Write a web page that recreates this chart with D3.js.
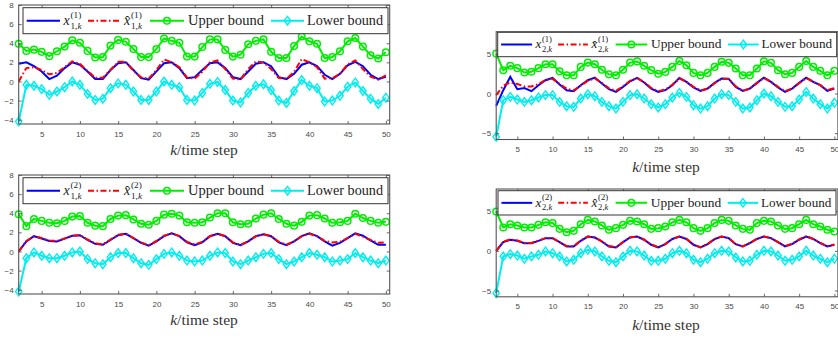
<!DOCTYPE html>
<html>
<head>
<meta charset="utf-8">
<script src="https://cdn.jsdelivr.net/npm/d3@7"></script>
<style>
  body { margin: 0; background: #fff; }
  svg { display: block; }
  .tick text { font-family: "Liberation Sans", Arial, sans-serif; font-size: 8px; fill: #4a4a4a; }
  .tick line { stroke: #444; stroke-width: 0.8; }
</style>
</head>
<body>
<svg id="chart" width="838" height="339"></svg>
<script>
// time steps k = 2..50
const steps = d3.range(2, 51);
const xTicks = [5, 10, 15, 20, 25, 30, 35, 40, 45, 50];
const yTicksLeft = [-4, -2, 0, 2, 4, 6, 8];
const yTicksRight = [-5, 0, 5];

// x^{(1)}_{1,k}
const x11 = [1.86, 2.0, 1.6, 1.05, 0.25, 0.6, 1.4, 2.0, 1.75, 1.05, 0.25, 0.25, 1.2, 1.9, 2.0, 1.2, 0.35, 0.2, 1.05, 1.9, 2.0, 1.4, 0.35, 0.45, 1.2, 1.9, 2.0, 1.4, 0.45, 0.25, 1.05, 1.85, 2.0, 1.6, 0.45, 0.25, 0.8, 1.75, 2.0, 1.6, 0.7, 0.25, 0.8, 1.7, 2.05, 1.6, 0.7, 0.25, 0.5];
const x11Hat = [0, 1.4, 1.5, 1.2, 0.75, 0.9, 1.5, 2.1, 1.85, 1.1, 0.4, 0.4, 1.2, 2.05, 2.05, 1.1, 0.45, 0.3, 1.2, 2.3, 2.0, 1.5, 0.4, 0.3, 1.0, 2.0, 2.2, 1.3, 0.3, 0.2, 1.3, 2.1, 2.0, 1.3, 0.35, 0.3, 1.0, 2.35, 2.0, 1.5, 0.3, 0.35, 0.8, 1.8, 2.2, 1.3, 0.5, 0.2, 0.65];
const x11Upper = [3.95, 3.2, 3.33, 3.1, 2.65, 3.16, 3.65, 4.3, 4.05, 3.2, 2.5, 2.55, 3.75, 4.35, 4.15, 3.4, 2.55, 2.55, 3.4, 4.5, 4.25, 4.05, 2.6, 2.6, 3.6, 4.4, 4.4, 3.3, 2.6, 2.8, 3.9, 4.25, 4.4, 3.1, 2.45, 2.45, 3.7, 4.7, 4.2, 3.95, 2.45, 2.55, 3.15, 4.2, 4.55, 3.65, 2.75, 2.4, 3.05];
const x11Lower = [-4.2, -0.35, -0.45, -0.8, -1.4, -1.05, -0.6, 0, -0.35, -1.3, -1.93, -1.8, -0.7, -0.2, -0.35, -1.05, -1.93, -1.93, -1.05, 0, -0.35, -0.6, -1.93, -2.0, -1.2, -0.25, -0.05, -0.9, -2.0, -2.2, -1.2, -0.45, -0.3, -0.9, -2.0, -2.25, -1.0, 0.15, -0.45, -0.7, -2.1, -2.0, -1.5, -0.55, -0.1, -1.0, -1.8, -2.35, -1.7];

// x^{(1)}_{2,k}
const x21 = [-1.55, 0.42, 2.1, 0.55, 0.7, 0.3, 1.05, 1.68, 1.97, 1.13, 0.42, 0.3, 1.05, 1.68, 2.0, 1.26, 0.55, 0.2, 0.84, 1.55, 1.97, 1.4, 0.63, 0.2, 0.42, 1.05, 1.97, 1.47, 0.76, 0.34, 0.63, 1.34, 1.9, 1.85, 0.84, 0.34, 0.63, 1.34, 2.0, 1.47, 0.76, 0.2, 0.63, 1.34, 2.0, 1.47, 1.05, 0.34, 0.63];
const x21Hat = [-0.2, 1.0, 1.4, 1.2, 0.9, 0.9, 1.2, 1.7, 1.85, 1.2, 0.6, 0.4, 1.0, 1.6, 1.9, 1.35, 0.65, 0.35, 0.9, 1.6, 1.95, 1.45, 0.7, 0.3, 0.5, 1.1, 1.9, 1.5, 0.85, 0.4, 0.6, 1.3, 1.85, 1.85, 0.9, 0.35, 0.6, 1.3, 1.95, 1.5, 0.85, 0.3, 0.6, 1.3, 1.95, 1.5, 1.05, 0.4, 0.7];
const x21Upper = [5.04, 2.94, 3.5, 3.2, 2.65, 2.75, 3.2, 3.7, 3.7, 2.8, 2.3, 2.3, 3.36, 3.9, 3.7, 3.0, 2.42, 2.3, 3.0, 3.9, 4.05, 3.5, 2.95, 2.5, 2.73, 3.36, 4.1, 3.57, 2.6, 2.3, 2.6, 3.36, 4.0, 3.87, 3.15, 2.3, 2.3, 3.15, 4.07, 3.87, 2.94, 2.44, 2.6, 3.36, 4.1, 3.36, 2.86, 2.3, 2.86];
const x21Lower = [-5.46, -0.84, -0.42, -0.76, -1.05, -0.84, -0.5, -0.2, -0.2, -1.05, -1.6, -1.68, -0.63, -0.08, -0.34, -1.05, -1.6, -1.9, -1.05, -0.2, -0.08, -0.63, -1.34, -1.76, -1.34, -0.5, 0.08, -0.42, -1.47, -1.9, -1.6, -0.63, -0.08, -0.2, -1.05, -1.9, -1.76, -0.84, 0, -0.34, -1.05, -1.68, -1.6, -0.76, 0.2, -0.63, -1.34, -1.9, -1.17];

// x^{(2)}_{1,k}
const x12 = [0, 1.05, 1.6, 1.35, 1.1, 1.05, 1.35, 1.65, 1.7, 1.2, 0.8, 0.7, 1.2, 1.7, 1.85, 1.4, 0.9, 0.6, 1.05, 1.6, 1.9, 1.6, 0.95, 0.65, 0.95, 1.6, 1.85, 1.6, 0.9, 0.65, 1.05, 1.6, 1.8, 1.6, 0.95, 0.65, 1.05, 1.6, 1.9, 1.6, 1.05, 0.6, 0.9, 1.4, 1.9, 1.65, 1.15, 0.7, 0.7];
const x12Hat = [0, 1.1, 1.6, 1.4, 1.15, 1.1, 1.35, 1.65, 1.7, 1.25, 0.85, 0.75, 1.25, 1.75, 1.85, 1.4, 0.95, 0.65, 1.1, 1.65, 1.9, 1.6, 1.0, 0.75, 1.0, 1.6, 1.85, 1.6, 0.95, 0.7, 1.05, 1.6, 1.8, 1.6, 1.0, 0.7, 1.05, 1.6, 1.85, 1.6, 1.1, 0.95, 1.0, 1.4, 1.85, 1.55, 1.2, 0.9, 0.95];
const x12Upper = [3.9, 2.65, 3.4, 3.2, 3.0, 2.95, 3.2, 3.65, 3.7, 3.0, 2.7, 2.65, 3.4, 3.75, 3.8, 3.35, 2.9, 2.8, 3.2, 3.85, 3.95, 3.75, 3.05, 3.0, 3.05, 3.55, 4.0, 4.0, 3.05, 2.85, 2.9, 3.45, 3.85, 4.0, 3.4, 2.9, 2.7, 3.1, 3.75, 3.8, 3.45, 3.0, 3.05, 3.2, 3.95, 3.5, 3.2, 3.0, 3.1];
const x12Lower = [-4.2, -0.7, -0.1, -0.45, -0.7, -0.7, -0.45, -0.1, 0, -0.8, -1.23, -1.33, -0.6, -0.17, -0.17, -0.7, -1.23, -1.4, -0.8, -0.25, -0.1, -0.45, -0.95, -1.05, -0.95, -0.45, -0.1, -0.17, -1.05, -1.33, -0.95, -0.6, -0.25, -0.17, -0.8, -1.33, -1.05, -0.6, -0.17, -0.35, -0.6, -1.05, -0.95, -0.8, -0.17, -0.6, -0.95, -1.23, -0.95];

// x^{(2)}_{2,k}
const x22 = [0, 1.1, 1.4, 1.26, 0.97, 0.97, 1.26, 1.6, 1.6, 1.1, 0.55, 0.55, 1.26, 1.8, 1.68, 1.18, 0.55, 0.42, 1.1, 1.68, 1.8, 1.4, 0.76, 0.42, 0.84, 1.5, 1.8, 1.5, 0.76, 0.42, 0.84, 1.47, 1.8, 1.6, 0.84, 0.55, 0.97, 1.5, 1.8, 1.6, 1.1, 0.55, 0.84, 1.4, 1.8, 1.5, 0.97, 0.55, 0.76];
const x22Hat = [0, 1.15, 1.45, 1.3, 1.0, 1.0, 1.3, 1.6, 1.6, 1.1, 0.6, 0.6, 1.3, 1.8, 1.7, 1.2, 0.6, 0.45, 1.1, 1.7, 1.8, 1.4, 0.8, 0.45, 0.85, 1.5, 1.8, 1.5, 0.8, 0.45, 0.85, 1.5, 1.8, 1.6, 0.85, 0.55, 1.0, 1.5, 1.8, 1.6, 1.1, 0.6, 0.9, 1.45, 1.85, 1.5, 1.0, 0.6, 0.8];
const x22Upper = [4.96, 2.94, 3.36, 3.2, 2.94, 2.94, 3.28, 3.6, 3.5, 2.77, 2.35, 2.52, 3.36, 3.9, 3.7, 3.2, 2.65, 2.86, 3.28, 3.78, 3.7, 3.36, 2.77, 2.86, 3.07, 3.6, 3.9, 3.6, 2.86, 2.52, 2.86, 3.5, 3.9, 3.78, 3.2, 2.77, 2.65, 3.5, 3.78, 3.7, 3.2, 2.77, 2.86, 3.36, 3.9, 3.36, 3.07, 2.65, 2.44];
const x22Lower = [-5.34, -0.7, -0.42, -0.6, -1.0, -0.7, -0.5, -0.08, -0.3, -0.7, -1.34, -1.13, -0.3, 0.13, -0.08, -0.7, -1.26, -1.43, -0.7, 0, -0.08, -0.6, -1.26, -1.26, -1.0, -0.3, 0, -0.3, -1.13, -1.43, -1.0, -0.3, 0, -0.08, -0.84, -1.34, -1.26, -0.5, 0, -0.08, -0.6, -1.26, -1.13, -0.7, 0, -0.6, -1.0, -1.43, -1.0];

const colors = { state: "#0000ff", est: "#ff0000", upper: "#00ee00", lower: "#00eeee" };

const panels = [
  { left: 18.7, right: 389.7, top: 5, bottom: 124, ylim: [-4.45, 8], yTicks: yTicksLeft,
    state: x11, est: x11Hat, upper: x11Upper, lower: x11Lower, sup: "(1)", sub: "1,k",
    legend: { x0: 23, x1: 388, y0: 7.7, y1: 33.7 }, fs: 14, xlab: { x: 204, y: 155 } },
  { left: 496.2, right: 837.9, top: 31.7, bottom: 139.5, ylim: [-5.8, 7.8], yTicks: yTicksRight,
    state: x21, est: x21Hat, upper: x21Upper, lower: x21Lower, sup: "(1)", sub: "2,k",
    legend: { x0: 497.7, x1: 836.7, y0: 32.3, y1: 56.7 }, fs: 13, xlab: { x: 666, y: 172 } },
  { left: 18.7, right: 389.7, top: 175, bottom: 294, ylim: [-4.45, 8], yTicks: yTicksLeft,
    state: x12, est: x12Hat, upper: x12Upper, lower: x12Lower, sup: "(2)", sub: "1,k",
    legend: { x0: 23, x1: 388, y0: 177.7, y1: 203.7 }, fs: 14, xlab: { x: 204, y: 325 } },
  { left: 496.2, right: 837.9, top: 189, bottom: 296.8, ylim: [-5.8, 7.8], yTicks: yTicksRight,
    state: x22, est: x22Hat, upper: x22Upper, lower: x22Lower, sup: "(2)", sub: "2,k",
    legend: { x0: 498, x1: 836, y0: 190.7, y1: 215 }, fs: 13, xlab: { x: 666, y: 330 } }
];

// pick the first serif face that is really installed (LaTeX-like labels)
function pickFont(candidates, fallback) {
  const ctx = document.createElement("canvas").getContext("2d");
  const sample = "Upper bound k/time step WMli 0123";
  ctx.font = "40px monospace";
  const ref = ctx.measureText(sample).width;
  for (const f of candidates) {
    ctx.font = `40px "${f}", monospace`;
    if (Math.abs(ctx.measureText(sample).width - ref) > 0.5) return `"${f}"`;
  }
  return fallback;
}
const serifFont = pickFont(["Liberation Serif", "DejaVu Serif", "Tinos", "Times New Roman",
  "Times", "Nimbus Roman", "FreeSerif", "Noto Serif", "TeX Gyre Termes"], "\"Liberation Sans\", sans-serif");

const svg = d3.select("#chart");
// MATLAB-like diamond marker
const diamondPath = "M0,-4.3L3.2,0L0,4.3L-3.2,0Z";

function serifText(sel) {
  return sel.append("text").attr("font-family", serifFont).attr("font-weight", "normal");
}

function drawPanel(p) {
  const x = d3.scaleLinear().domain([2, 50.5]).range([p.left, p.right]);
  const y = d3.scaleLinear().domain(p.ylim).range([p.bottom, p.top]);
  const g = svg.append("g");

  const line = d3.line().x((d, i) => x(steps[i])).y(d => y(d));

  g.append("path").attr("d", line(p.state))
    .attr("fill", "none").attr("stroke", colors.state).attr("stroke-width", 2);
  g.append("path").attr("d", line(p.est))
    .attr("fill", "none").attr("stroke", colors.est).attr("stroke-width", 2)
    .attr("stroke-dasharray", "6,2.5,1.5,2.5");

  g.append("path").attr("d", line(p.upper))
    .attr("fill", "none").attr("stroke", colors.upper).attr("stroke-width", 2);
  g.selectAll(".up").data(p.upper).enter().append("circle")
    .attr("cx", (d, i) => x(steps[i])).attr("cy", d => y(d)).attr("r", 3.3)
    .attr("fill", "none").attr("stroke", colors.upper).attr("stroke-width", 1.5);

  g.append("path").attr("d", line(p.lower))
    .attr("fill", "none").attr("stroke", colors.lower).attr("stroke-width", 2);
  g.selectAll(".lo").data(p.lower).enter().append("path")
    .attr("d", diamondPath)
    .attr("transform", (d, i) => `translate(${x(steps[i])},${y(d)})`)
    .attr("fill", "none").attr("stroke", colors.lower).attr("stroke-width", 1.4);

  // axes with inward ticks, MATLAB-like box
  const ax = svg.append("g");
  ax.append("g").attr("transform", `translate(0,${p.bottom})`)
    .call(d3.axisBottom(x).tickValues(xTicks).tickSize(-3).tickPadding(7))
    .call(s => s.select(".domain").remove());
  ax.append("g").attr("transform", `translate(0,${p.top})`)
    .call(d3.axisTop(x).tickValues(xTicks).tickSize(-3).tickFormat(""))
    .call(s => s.select(".domain").remove());
  ax.append("g").attr("transform", `translate(${p.left},0)`)
    .call(d3.axisLeft(y).tickValues(p.yTicks).tickSize(-3).tickPadding(5))
    .call(s => s.select(".domain").remove());
  ax.append("g").attr("transform", `translate(${p.right},0)`)
    .call(d3.axisRight(y).tickValues(p.yTicks).tickSize(-3).tickFormat(""))
    .call(s => s.select(".domain").remove());
  ax.selectAll("g").attr("font-family", null).attr("font-size", null);
  ax.append("rect").attr("x", p.left).attr("y", p.top)
    .attr("width", p.right - p.left).attr("height", p.bottom - p.top)
    .attr("fill", "none").attr("stroke", "#555").attr("stroke-width", 1.1);

  // x label
  const xl = serifText(svg).attr("x", p.xlab.x).attr("y", p.xlab.y)
    .attr("text-anchor", "middle").attr("font-size", 15.5).attr("fill", "#333");
  xl.append("tspan").attr("font-style", "italic").text("k");
  xl.append("tspan").text("/time step");

  drawLegend(p);
}

function drawLegend(p) {
  const L = p.legend;
  const w = L.x1 - L.x0;
  const s = w / 365;
  const cy = (L.y0 + L.y1) / 2;
  const fs = p.fs;
  const base = cy + fs * 0.3;
  const lg = svg.append("g");
  lg.append("rect").attr("x", L.x0).attr("y", L.y0).attr("width", w).attr("height", L.y1 - L.y0)
    .attr("fill", "#fff").attr("stroke", "#333").attr("stroke-width", 1);

  const items = [
    { key: "state", a: 3.7, b: 37, t: 39.5 },
    { key: "est", a: 65, b: 97, t: 100 },
    { key: "upper", a: 127, b: 161, t: 165, label: "Upper bound" },
    { key: "lower", a: 248, b: 281, t: 284, label: "Lower bound" }
  ];
  items.forEach(it => {
    const xa = L.x0 + it.a * s, xb = L.x0 + it.b * s, xt = L.x0 + it.t * s;
    const ln = lg.append("line").attr("x1", xa).attr("x2", xb).attr("y1", cy).attr("y2", cy)
      .attr("stroke", colors[it.key]).attr("stroke-width", 2);
    if (it.key === "est") ln.attr("stroke-dasharray", "6,2.5,1.5,2.5");
    const mx = (xa + xb) / 2;
    if (it.key === "upper") {
      lg.append("circle").attr("cx", mx).attr("cy", cy).attr("r", 3.3)
        .attr("fill", "none").attr("stroke", colors.upper).attr("stroke-width", 1.5);
    }
    if (it.key === "lower") {
      lg.append("path").attr("d", diamondPath)
        .attr("transform", `translate(${mx},${cy})`)
        .attr("fill", "none").attr("stroke", colors.lower).attr("stroke-width", 1.4);
    }
    if (it.label) {
      serifText(lg).attr("x", xt).attr("y", base)
        .attr("font-size", fs).attr("fill", "#222")
        .attr("textLength", 76 * s).attr("lengthAdjust", "spacingAndGlyphs").text(it.label);
    } else {
      // x^{(i)}_{j,k} and its estimate
      const xs = xt + 1;
      serifText(lg).attr("x", xs).attr("y", base).attr("fill", "#222")
        .attr("font-style", "italic").attr("font-size", fs).text("x");
      if (it.key === "est") {
        serifText(lg).attr("x", xs + fs * 0.08).attr("y", base + 1.5).attr("fill", "#222")
          .attr("font-size", fs).text("\u02C6");
      }
      const sx = xs + fs * 0.5;
      serifText(lg).attr("x", sx).attr("y", base - fs * 0.5).attr("fill", "#222")
        .attr("font-size", fs * 0.66).text(p.sup);
      const sub = serifText(lg).attr("x", sx).attr("y", base + fs * 0.28).attr("fill", "#222")
        .attr("font-size", fs * 0.66);
      const parts = p.sub.split(",");
      sub.append("tspan").text(parts[0] + ",");
      sub.append("tspan").attr("font-style", "italic").text(parts[1]);
    }
  });
}

panels.forEach(drawPanel);
</script>
</body>
</html>
